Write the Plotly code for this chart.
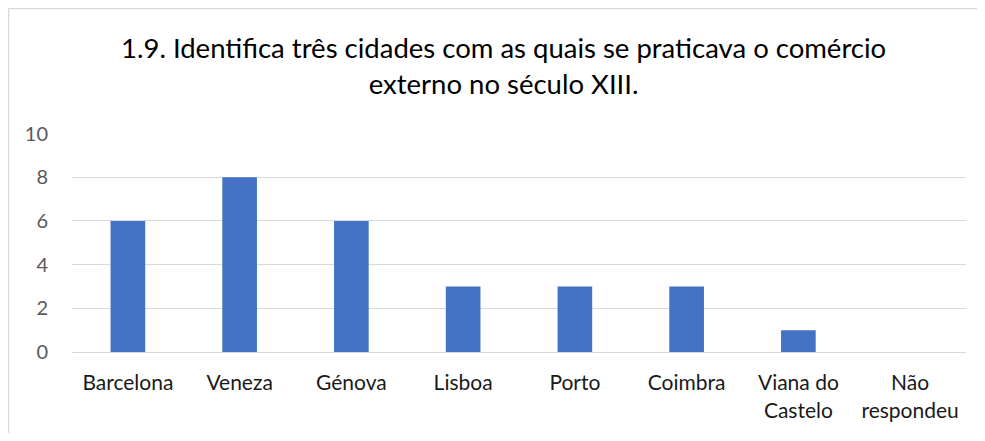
import plotly.graph_objects as go

categories = ["Barcelona", "Veneza", "Génova", "Lisboa", "Porto", "Coimbra", "Viana do<br>Castelo", "Não<br>respondeu"]
values = [6, 8, 6, 3, 3, 3, 1, 0]
y_ticks = [0, 2, 4, 6, 8, 10]
title_text = "1.9. Identifica três cidades com as quais se praticava o comércio<br>externo no século XIII."

# page body has an 8px margin on every side; figure coordinates = reference coordinates - 8
OFF = 8
W, H = 985 - 2 * OFF, 441 - 2 * OFF
ml = 72 - OFF
mr = (W + OFF) - 966
mt = 133 - OFF
mb = (H + OFF) - 352
pw, ph = W - ml - mr, H - mt - mb

def px_x(x):
    return (x - OFF - ml) / pw

def px_y(y):
    return (H - mb - (y - OFF)) / ph

font_family = "Lato, 'Noto Sans', sans-serif"

fig = go.Figure(go.Bar(
    x=categories, y=values,
    marker=dict(color="#4472C4", line=dict(width=0)),
    width=0.31,
))

border = dict(color="#d9d9d9", width=1.5)

fig.update_layout(
    width=W, height=H,
    margin=dict(l=ml, r=mr, t=mt, b=mb, autoexpand=False),
    paper_bgcolor="white", plot_bgcolor="white",
    font=dict(family=font_family, size=21, color="#262626"),
    showlegend=False,
    xaxis=dict(showgrid=False, showline=True, linecolor="#d9d9d9", linewidth=1,
               ticks="", ticklabelstandoff=12, automargin=False,
               tickfont=dict(size=21, color="#1a1a1a")),
    yaxis=dict(range=[0, 10.03], tickvals=y_ticks, showgrid=True, gridcolor="#d9d9d9",
               gridwidth=1, zeroline=False, showline=False, ticks="",
               ticklabelstandoff=23, automargin=False,
               tickfont=dict(size=20, color="#595959")),
    annotations=[dict(
        text=title_text, xref="paper", yref="paper",
        x=px_x(503), y=px_y(65), xanchor="center", yanchor="middle",
        showarrow=False, align="center",
        font=dict(size=27.5, color="#000000", family=font_family),
    )],
    shapes=[
        dict(type="line", xref="paper", yref="paper",
             x0=px_x(8.5), x1=px_x(8.5), y0=px_y(441), y1=px_y(8.5), line=border, layer="below"),
        dict(type="line", xref="paper", yref="paper",
             x0=px_x(8.5), x1=px_x(985), y0=px_y(8.5), y1=px_y(8.5), line=border, layer="below"),
    ],
)

fig.write_html("out.html")
